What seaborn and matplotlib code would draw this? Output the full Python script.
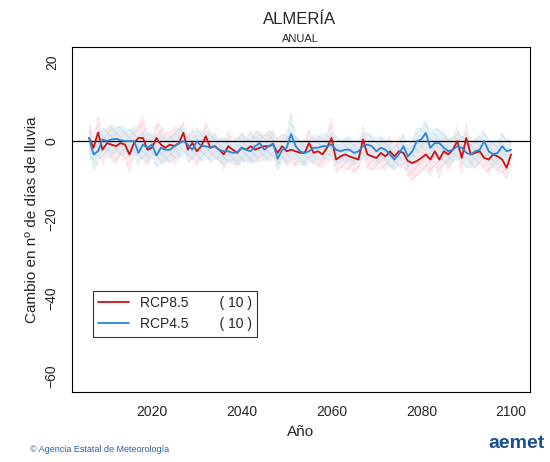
import numpy as np
import matplotlib
matplotlib.use("Agg")
import matplotlib.pyplot as plt
import seaborn as sns

years = list(range(2006, 2101))

rcp85 = [0.8, -1.7, 2.2, -2.2, -0.5, -0.9, -1.3, -0.5, -0.9, -3.4, -0.5, 0.8, 0.8, -2.2, -1.7, 0.8, -0.9, -1.7, -0.9, -1.3,
         -0.5, 2.1, -2.2, -0.5, -2.6, -1.3, 1.2, -1.7, -1.3, -2.2, -3.4, -1.3, -2.2, -3.0, -1.7, -2.2, -1.3, -2.2, -1.7, -1.3,
         -1.3, -0.9, -3.0, -1.3, -2.6, -2.2, -2.6, -3.0, -3.0, -0.5, -3.0, -2.6, -3.4, -1.7, 0.8, -4.7, -3.9, -3.4, -3.9, -4.3,
         -4.7, 0.4, -3.4, -3.9, -4.3, -3.0, -3.9, -2.6, -3.9, -2.6, -3.0, -5.1, -5.6, -5.1, -4.3, -3.4, -4.7, -2.6, -4.7, -2.6,
         -3.4, -2.2, 0.0, -4.3, 0.8, -3.4, -3.0, -2.6, -4.3, -4.7, -3.4, -3.9, -4.7, -6.8, -3.4]
rcp45 = [0.8, -3.4, -2.6, 0.4, 0.0, 0.4, 0.6, 0.2, 0.0, 0.0, 0.0, -3.0, -0.9, -1.7, -0.9, -3.7, -1.7, -2.2, -2.2, -1.3,
         -0.6, 0.0, -0.9, -2.2, 0.0, -1.3, -1.3, -1.7, -1.3, -2.2, -2.6, -2.6, -3.0, -2.8, -1.7, -2.2, -2.6, -1.3, -0.5, -2.2,
         -1.3, -0.6, -4.5, -2.2, -1.7, 1.8, -1.3, -2.6, -3.0, -2.6, -1.7, -1.7, -1.3, -1.3, -0.9, -2.2, -2.6, -2.2, -2.2, -3.0,
         -2.6, -1.3, -0.9, -1.3, -2.6, -1.7, -2.2, -3.4, -4.7, -3.4, -1.3, -3.9, -2.6, 0.0, 0.4, 2.1, -1.7, -0.5, -0.5, -1.7,
         -2.6, -2.2, -1.3, -1.7, -3.0, -3.4, -2.6, -2.2, 0.0, -2.6, -3.4, -3.0, -1.3, -2.6, -2.2]
rcp85_hw = [4, 3, 5, 4, 3.5, 4, 5, 3, 4, 5, 3.5, 4, 6, 4, 3, 4, 5, 4, 3.5, 5,
            4, 3, 3.5, 4, 4, 3, 4, 4, 3.5, 3, 4, 4, 3, 4, 3.5, 3, 4, 3, 4, 3,
            4, 3.5, 4, 3, 4, 3.5, 4, 3, 3.5, 4, 3, 4, 3.5, 4, 5.5, 3.5, 3, 4, 3.5, 4,
            3, 4, 4, 3.5, 3, 4, 3.5, 4, 3, 4, 3.5, 4, 4.5, 4, 3.5, 4, 4.5, 4, 5, 3.5,
            4, 3.5, 4, 4.5, 4, 3.5, 4, 3.5, 3, 4, 3.5, 4, 3.5, 3, 3.5]
rcp45_hw = [4, 4, 3.5, 3, 3.5, 4, 3, 4, 3.5, 3, 4, 3, 3.5, 4, 3, 3.5, 4, 3, 3.5, 3,
            4, 3.5, 3, 3, 3.5, 4, 3, 3.5, 3, 3, 3.5, 3, 3, 3.5, 4, 3, 3.5, 4, 3, 3.5,
            3, 3.5, 3, 3.5, 4, 6, 3, 3, 3.5, 3, 3.5, 3, 3.5, 3, 3, 3.5, 3, 3, 3.5, 3,
            3, 3.5, 3, 3, 3.5, 3, 3, 3.5, 3, 3, 3.5, 3, 3, 3.5, 3, 3.5, 4, 4, 3.5, 4,
            3.5, 3, 3.5, 3, 4, 3.5, 3, 4, 3, 3, 3.5, 3, 3.5, 3, 3]

sns.set_style("white")
plt.rcParams['font.family'] = ['Liberation Sans', 'DejaVu Sans']
plt.rcParams['hatch.linewidth'] = 0.5
fig = plt.figure(figsize=(5.5, 4.62), dpi=100)
ax = fig.add_axes([72 / 550, 1 - 392 / 462, 458 / 550, 345 / 462])

y = np.array(years)
r, b = np.array(rcp85), np.array(rcp45)
rh, bh = np.array(rcp85_hw), np.array(rcp45_hw)
ax.fill_between(y, r - rh, r + rh, facecolor="#fadbe0", edgecolor="#f2aab8", hatch="////", lw=0, alpha=0.55)
ax.fill_between(y, b - bh, b + bh, facecolor="#d3e9f3", edgecolor="#9fcde2", hatch="\\\\\\\\", lw=0, alpha=0.55)
ax.axhline(0, color="black", lw=0.9)
sns.lineplot(x=years, y=rcp85, color="#cc1111", lw=1.3, ax=ax, label="RCP8.5        ( 10 )")
sns.lineplot(x=years, y=rcp45, color="#2b86d9", lw=1.3, ax=ax, label="RCP4.5        ( 10 )")

ax.set_xlim(2002.2, 2104.2)
ax.set_ylim(-64, 24)
ax.set_xticks([2020, 2040, 2060, 2080, 2100])
ax.set_xticks(range(2010, 2101, 5), minor=True)
ax.set_yticks([20, 0, -20, -40, -60])
ax.set_yticks(range(-60, 21, 5), minor=True)
ax.tick_params(axis="both", which="major", direction="out", length=6, labelsize=10, color="black")
ax.tick_params(axis="both", which="minor", direction="out", length=3, color="black")
ax.tick_params(axis="y", labelrotation=90)
for lbl in ax.get_yticklabels():
    lbl.set_va("center")
for s in ax.spines.values():
    s.set_color("black")
    s.set_linewidth(0.8)
ax.set_xlabel("Año", fontsize=11)
ax.set_ylabel("Cambio en nº de días de lluvia", fontsize=11)

leg = ax.legend(loc="lower left", bbox_to_anchor=(0.03, 0.14), fontsize=10, frameon=True,
                fancybox=False, edgecolor="black", handlelength=2.2)
leg.get_frame().set_linewidth(0.8)

fig.text(300 / 550, 1 - 20 / 462, "ALMERÍA", ha="center", va="center", fontsize=12)
fig.text(300 / 550, 1 - 39 / 462, "ANUAL", ha="center", va="center", fontsize=8)
fig.text(30 / 550, 1 - 449 / 462, "© Agencia Estatal de Meteorología", ha="left", va="center", fontsize=6.5, color="#3060a0")
fig.text(545 / 550, 1 - 443 / 462, "aemet", ha="right", va="center", fontsize=14, fontweight="bold", color="#1a4f8f")

fig.savefig("out.png", dpi=100)
